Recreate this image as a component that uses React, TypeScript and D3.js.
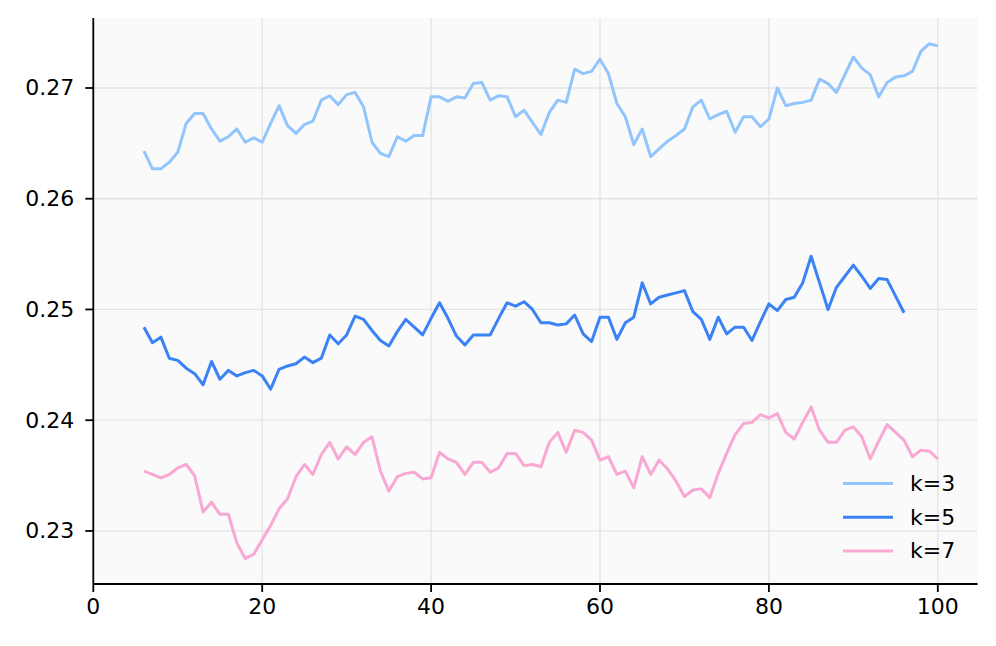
import React from "react";
import * as d3 from "d3";

const seriesNames = ["k=3", "k=5", "k=7"];
const seriesColors = ["#93c5fd", "#3b82f6", "#f9a8d4"];
const startX = [6, 6, 6];

const k3 = [
  0.2643, 0.2627, 0.2627, 0.2633, 0.2642, 0.2668, 0.2677, 0.2677, 0.2663, 0.2652,
  0.2656, 0.2663, 0.2651, 0.2655, 0.2651, 0.2668, 0.2684, 0.2666, 0.2659, 0.2667,
  0.2670, 0.2689, 0.2693, 0.2685, 0.2694, 0.2696, 0.2683, 0.2651, 0.2641, 0.2638,
  0.2656, 0.2652, 0.2657, 0.2657, 0.2692, 0.2692, 0.2688, 0.2692, 0.2691, 0.2704,
  0.2705, 0.2689, 0.2693, 0.2692, 0.2674, 0.2680, 0.2669, 0.2658, 0.2678, 0.2689,
  0.2687, 0.2717, 0.2713, 0.2715, 0.2726, 0.2713, 0.2686, 0.2674, 0.2649, 0.2663,
  0.2638, 0.2645, 0.2652, 0.2657, 0.2663, 0.2683, 0.2689, 0.2672, 0.2676, 0.2679,
  0.2660, 0.2674, 0.2674, 0.2665, 0.2672, 0.2700, 0.2684, 0.2686, 0.2687, 0.2689,
  0.2708, 0.2704, 0.2696, 0.2712, 0.2728, 0.2718, 0.2712, 0.2692, 0.2705, 0.2710,
  0.2711, 0.2715, 0.2733, 0.2740, 0.2738,
];

const k5 = [
  0.2484, 0.2470, 0.2475, 0.2456, 0.2454, 0.2447, 0.2442, 0.2432, 0.2453, 0.2437,
  0.2445, 0.2440, 0.2443, 0.2445, 0.2440, 0.2428, 0.2446, 0.2449, 0.2451, 0.2457,
  0.2452, 0.2456, 0.2477, 0.2469, 0.2477, 0.2494, 0.2491, 0.2481, 0.2472, 0.2467,
  0.2480, 0.2491, 0.2484, 0.2477, 0.2492, 0.2506, 0.2492, 0.2476, 0.2468, 0.2477,
  0.2477, 0.2477, 0.2492, 0.2506, 0.2503, 0.2507, 0.2500, 0.2488, 0.2488, 0.2486,
  0.2487, 0.2495, 0.2478, 0.2471, 0.2493, 0.2493, 0.2473, 0.2488, 0.2493, 0.2524,
  0.2505, 0.2511, 0.2513, 0.2515, 0.2517, 0.2498, 0.2491, 0.2473, 0.2493, 0.2478,
  0.2484, 0.2484, 0.2472, 0.2489, 0.2505, 0.2499, 0.2509, 0.2511, 0.2524, 0.2548,
  0.2524, 0.2500, 0.2520, 0.2530, 0.2540, 0.2530, 0.2519, 0.2528, 0.2527, 0.2512,
  0.2497,
];

const k7 = [
  0.2354, 0.2351, 0.2348, 0.2351, 0.2357, 0.2360, 0.2350, 0.2317, 0.2326, 0.2315,
  0.2315, 0.2289, 0.2275, 0.2279, 0.2292, 0.2305, 0.2320, 0.2329, 0.2349, 0.2360,
  0.2351, 0.2369, 0.2380, 0.2365, 0.2376, 0.2369, 0.2380, 0.2385, 0.2354, 0.2336,
  0.2349, 0.2352, 0.2353, 0.2347, 0.2348, 0.2371, 0.2365, 0.2362, 0.2351, 0.2362,
  0.2362, 0.2353, 0.2357, 0.2370, 0.2370, 0.2359, 0.2360, 0.2358, 0.2380, 0.2389,
  0.2371, 0.2391, 0.2389, 0.2382, 0.2364, 0.2367, 0.2351, 0.2354, 0.2339, 0.2367,
  0.2351, 0.2364, 0.2356, 0.2345, 0.2331, 0.2337, 0.2338, 0.2330, 0.2352, 0.2370,
  0.2387, 0.2397, 0.2398, 0.2405, 0.2402, 0.2406, 0.2389, 0.2383, 0.2398, 0.2412,
  0.2391, 0.2380, 0.2380, 0.2391, 0.2394, 0.2385, 0.2365, 0.2381, 0.2396, 0.2389,
  0.2382, 0.2367, 0.2373, 0.2372, 0.2365,
];

const xTicks = [0, 20, 40, 60, 80, 100];
const yTicks = [0.23, 0.24, 0.25, 0.26, 0.27];

const W = 996;
const H = 646;
const FONT = "DejaVu Sans";

export default function App() {
  const left = 93.3;
  const right = 977.5;
  const top = 18;
  const bottom = 584;

  const x = d3.scaleLinear().domain([0, 104.7]).range([left, right]);
  const y = d3.scaleLinear().domain([0.22521, 0.27632]).range([bottom, top]);

  const all = [k3, k5, k7];
  const line = d3
    .line<[number, number]>()
    .x((d) => x(d[0]))
    .y((d) => y(d[1]));

  const paths = all.map((vals, i) =>
    line(vals.map((v, j) => [startX[i] + j, v] as [number, number]))
  );

  const fs = 22;
  const lw = 3;

  return (
    <svg
      width={W}
      height={H}
      style={{ position: "absolute", left: 0, top: 0, background: "#ffffff" }}
      fontFamily={FONT}
    >
      <rect x={left} y={top} width={right - left} height={bottom - top} fill="#fafafa" />
      {xTicks.map((t) => (
        <line key={"gx" + t} x1={x(t)} x2={x(t)} y1={top} y2={bottom} stroke="#e3e3e3" strokeWidth={1.3} />
      ))}
      {yTicks.map((t) => (
        <line key={"gy" + t} x1={left} x2={right} y1={y(t)} y2={y(t)} stroke="#e3e3e3" strokeWidth={1.3} />
      ))}
      {paths.map((p, i) => (
        <path
          key={seriesNames[i]}
          d={p || ""}
          fill="none"
          stroke={seriesColors[i]}
          strokeWidth={lw}
          strokeLinejoin="round"
          strokeLinecap="butt"
        />
      ))}
      <line x1={left} x2={left} y1={top} y2={bottom} stroke="#000" strokeWidth={1.8} />
      <line x1={left} x2={right} y1={bottom} y2={bottom} stroke="#000" strokeWidth={1.8} />
      {yTicks.map((t) => (
        <g key={"yt" + t}>
          <line x1={left - 8} x2={left} y1={y(t)} y2={y(t)} stroke="#000" strokeWidth={1.8} />
          <text x={left - 19} y={y(t)} textAnchor="end" dominantBaseline="central" fontSize={fs} fill="#000">
            {d3.format(".2f")(t)}
          </text>
        </g>
      ))}
      {xTicks.map((t) => (
        <g key={"xt" + t}>
          <line x1={x(t)} x2={x(t)} y1={bottom} y2={bottom + 8} stroke="#000" strokeWidth={1.8} />
          <text x={x(t)} y={bottom + 14} textAnchor="middle" dominantBaseline="hanging" fontSize={fs} fill="#000">
            {t}
          </text>
        </g>
      ))}
      {seriesNames.map((n, i) => {
        const ly = 483.5 + i * 33.7;
        return (
          <g key={"lg" + n}>
            <line x1={843} x2={893} y1={ly} y2={ly} stroke={seriesColors[i]} strokeWidth={lw} />
            <text x={910} y={ly} dominantBaseline="central" fontSize={fs} fill="#000">
              {n}
            </text>
          </g>
        );
      })}
    </svg>
  );
}
